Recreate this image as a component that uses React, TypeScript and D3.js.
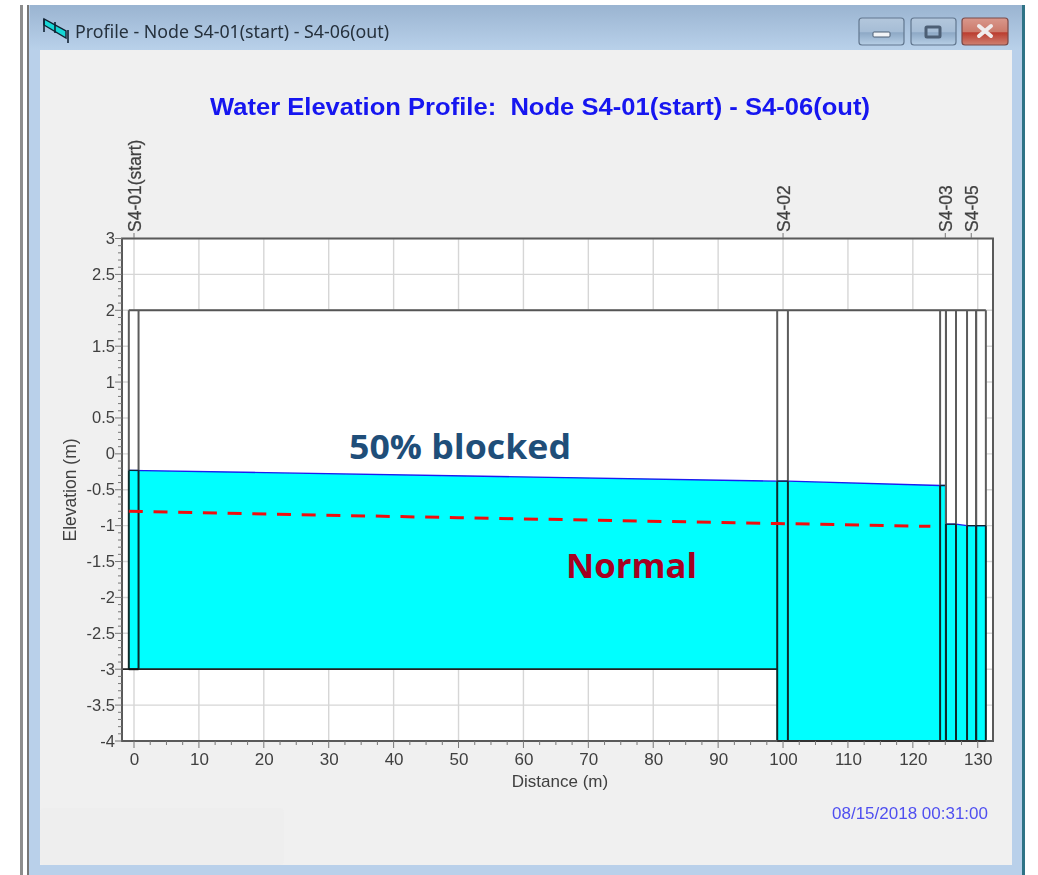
import React from "react";
import * as d3 from "d3";

const WIDTH = 1038;
const HEIGHT = 875;
const windowTitle = "Profile - Node S4-01(start) - S4-06(out)";
const chartTitle = "Water Elevation Profile:  Node S4-01(start) - S4-06(out)";
const timestamp = "08/15/2018 00:31:00";
const xTicks = [0, 10, 20, 30, 40, 50, 60, 70, 80, 90, 100, 110, 120, 130];
const yTicks = [3, 2.5, 2, 1.5, 1, 0.5, 0, -0.5, -1, -1.5, -2, -2.5, -3, -3.5, -4];
const nodeLabels = ["S4-01(start)", "S4-02", "S4-03", "S4-05"];
const nodeLabelX = [0, 100, 125, 129];
const wellLeft = [-0.8, 99.1, 124.2, 125.1, 128.35, 129.75];
const wellRight = [0.7, 100.75, 125.1, 126.65, 129.75, 131.25];
const wellWater = [-0.23, -0.38, -0.44, -0.98, -1.0, -1.0];
const wellFloor = [-3, -4, -4, -4, -4, -4];
const crownElev = 2;
const profileX = [-0.8, 99.1, 99.1, 100.75, 124.2, 125.1, 125.1, 126.65, 128.35, 131.25];
const waterElev = [-0.23, -0.38, -0.38, -0.38, -0.44, -0.44, -0.98, -0.98, -1.0, -1.0];
const floorElev = [-3, -3, -4, -4, -4, -4, -4, -4, -4, -4];
const normalX = [-0.8, 50, 99.1, 122.7];
const normalElev = [-0.8, -0.89, -0.97, -1.01];

const x = d3.scaleLinear().domain([-1.85, 132.35]).range([122, 993]);
const y = d3.scaleLinear().domain([-4, 3]).range([741, 238.5]);
const xMinor = d3.range(0, 132.5, 2.5);
const yMinor = d3.range(-40, 31).map((d) => d / 10);

const water = profileX.map((p, i) => ({ x: p, top: waterElev[i], bottom: floorElev[i] }));
const area = d3.area<any>().x((d) => x(d.x)).y0((d) => y(d.bottom)).y1((d) => y(d.top));
const surface = d3.line<any>().x((d) => x(d.x)).y((d) => y(d.top));
const normalLine = d3.line<number>().x((d) => x(d)).y((_, i) => y(normalElev[i]));
const sans = "'Liberation Sans', Arial, sans-serif";
const ui = "'Noto Sans', sans-serif";
const note = "'Open Sans', 'Noto Sans', sans-serif";
const axisText = "#404040";

function WinButton({ bx, w, kind }: { bx: number; w: number; kind: string }) {
  const red = kind === "close";
  const id = red ? "btnRed" : "btnBlue";
  return (
    <g>
      <rect x={bx} y={18} width={w} height={27} rx={3} fill={`url(#${id})`} stroke={red ? "#7b4a48" : "#62778f"} strokeWidth={1.2} />
      {kind === "min" && <rect x={bx + 14} y={32} width={17} height={5} rx={1} fill="#f2f4f7" stroke="#4d5f75" />}
      {kind === "max" && <rect x={bx + 15} y={27} width={14} height={10} rx={1} fill="none" stroke="#4d5f75" strokeWidth={3} />}
      {kind === "close" && (
        <path d={`M${bx + 17} 26 L${bx + 29} 36 M${bx + 29} 26 L${bx + 17} 36`} stroke="#f0ecec" strokeWidth={4} strokeLinecap="round" />
      )}
    </g>
  );
}

export default function App() {
  return (
    <svg width={WIDTH} height={HEIGHT} viewBox={`0 0 ${WIDTH} ${HEIGHT}`} style={{ position: "absolute", left: 0, top: 0, display: "block" }}>
      <defs>
        <linearGradient id="bar" x1="0" y1="0" x2="0" y2="1">
          <stop offset="0" stopColor="#9ab4d1" />
          <stop offset="1" stopColor="#b9d1ea" />
        </linearGradient>
        <linearGradient id="btnBlue" x1="0" y1="0" x2="0" y2="1">
          <stop offset="0" stopColor="#b3c7dc" />
          <stop offset="0.5" stopColor="#a6bdd6" />
          <stop offset="0.55" stopColor="#8ea9c6" />
          <stop offset="1" stopColor="#b7cfe6" />
        </linearGradient>
        <linearGradient id="btnRed" x1="0" y1="0" x2="0" y2="1">
          <stop offset="0" stopColor="#d9988c" />
          <stop offset="0.5" stopColor="#cc7b6c" />
          <stop offset="0.55" stopColor="#bb3e30" />
          <stop offset="1" stopColor="#cf8172" />
        </linearGradient>
        <filter id="soft" x="-2%" y="-2%" width="104%" height="104%">
          <feGaussianBlur stdDeviation="0.7" />
        </filter>
      </defs>
      <rect width={WIDTH} height={HEIGHT} fill="#fff" />
      <g filter="url(#soft)">
        <rect x={20} y={5} width={3} height={870} fill="#8d8d8d" />
        <rect x={27} y={5} width={2} height={870} fill="#777" />
        <rect x={29} y={5} width={994} height={870} fill="#b9d0ea" />
        <rect x={30} y={5} width={992} height={45} fill="url(#bar)" />
        <rect x={1022} y={5} width={3} height={870} fill="#2f7386" />
        <rect x={40} y={50} width={972} height={815} fill="#f0f0f0" />
        <rect x={40} y={808} width={244} height={57} fill="#eeeeee" rx={4} />
        <g>
          <path d="M44 25 L66 38 L66 31 L44 19 Z" fill="#19d6d6" stroke="#123" strokeWidth={1.4} />
          <path d="M55 22 V33 M68 30 V43 M44 19 V32" stroke="#123" strokeWidth={1.6} fill="none" />
        </g>
        <text x={75} y={38} fontFamily={ui} fontSize={17.4} fill="#25303c" textLength={314} lengthAdjust="spacingAndGlyphs">{windowTitle}</text>
        <WinButton bx={859} w={45} kind="min" />
        <WinButton bx={911} w={45} kind="max" />
        <WinButton bx={962} w={46} kind="close" />
        <text x={540} y={115} textAnchor="middle" xmlSpace="preserve" fontFamily={sans} fontWeight="bold" fontSize={24} fill="#1414f0" textLength={660} lengthAdjust="spacingAndGlyphs">{chartTitle}</text>
        <rect x={x.range()[0]} y={y.range()[1]} width={x.range()[1] - x.range()[0]} height={y.range()[0] - y.range()[1]} fill="#fff" />
        {xTicks.map((t) => (
          <line key={t} x1={x(t)} x2={x(t)} y1={y(3)} y2={y(-4)} stroke="#d6d6d6" strokeWidth={1.4} />
        ))}
        {yTicks.map((t) => (
          <line key={t} x1={x.range()[0]} x2={x.range()[1]} y1={y(t)} y2={y(t)} stroke="#d6d6d6" strokeWidth={1.4} />
        ))}
        <rect x={x(wellLeft[0])} y={y(crownElev)} width={x(wellRight[5]) - x(wellLeft[0])} height={y(-3) - y(crownElev)} fill="#fff" />
        <path d={area(water) ?? ""} fill="#00ffff" />
        <path d={surface(water.slice(0, 6)) ?? ""} fill="none" stroke="#1a1af0" strokeWidth={1.4} />
        <path d={surface(water.slice(6)) ?? ""} fill="none" stroke="#1a1af0" strokeWidth={1.2} />
        <line x1={x(wellLeft[0])} x2={x(wellRight[5])} y1={y(crownElev)} y2={y(crownElev)} stroke="#555" strokeWidth={2} />
        <line x1={x.range()[0]} x2={x(wellLeft[1])} y1={y(-3)} y2={y(-3)} stroke="#222" strokeWidth={1.8} />
        {wellLeft.map((l, i) => (
          <g key={i} fill="none" strokeWidth={2}>
            {[l, wellRight[i]].map((e, k) => (
              <g key={k}>
                <line x1={x(e)} x2={x(e)} y1={y(crownElev)} y2={y(wellWater[i])} stroke="#5c5c5c" />
                <line x1={x(e)} x2={x(e)} y1={y(wellWater[i])} y2={y(wellFloor[i])} stroke="#0c2c2c" />
              </g>
            ))}
            <line x1={x(l)} x2={x(wellRight[i])} y1={y(wellWater[i])} y2={y(wellWater[i])} stroke="#123" strokeWidth={1.3} />
            <line x1={x(l)} x2={x(wellRight[i])} y1={y(wellFloor[i])} y2={y(wellFloor[i])} stroke="#111" />
          </g>
        ))}
        <path d={normalLine(normalX) ?? ""} fill="none" stroke="#f01010" strokeWidth={3} strokeDasharray="14 10.7" />
        <rect x={x.range()[0]} y={y.range()[1]} width={x.range()[1] - x.range()[0]} height={y.range()[0] - y.range()[1]} fill="none" stroke="#5a5a5a" strokeWidth={2} />
        <line x1={x(wellLeft[1])} x2={x(wellRight[5])} y1={y(-4)} y2={y(-4)} stroke="#333" strokeWidth={2} />
        {xMinor.map((t) => (
          <line key={t} x1={x(t)} x2={x(t)} y1={741} y2={t % 10 === 0 ? 748 : 745} stroke="#777" strokeWidth={1} />
        ))}
        {yMinor.map((t) => (
          <line key={t} y1={y(t)} y2={y(t)} x1={Math.abs(t * 2 - Math.round(t * 2)) < 1e-6 ? 115 : 118} x2={122} stroke="#777" strokeWidth={1} />
        ))}
        {xTicks.map((t) => (
          <text key={t} x={x(t) + 0.5} y={765} textAnchor="middle" fontFamily={sans} fontSize={17} fill={axisText}>{t}</text>
        ))}
        {yTicks.map((t) => (
          <text key={t} x={115} y={y(t) + 5.5} textAnchor="end" fontFamily={sans} fontSize={16.5} fill={axisText}>{t}</text>
        ))}
        <text x={560} y={787} textAnchor="middle" fontFamily={sans} fontSize={17} fill={axisText}>Distance (m)</text>
        <text transform="translate(76,490) rotate(-90)" textAnchor="middle" fontFamily={sans} fontSize={17.5} fill={axisText}>Elevation (m)</text>
        {nodeLabels.map((n, i) => (
          <g key={n}>
            <line x1={x(nodeLabelX[i])} x2={x(nodeLabelX[i])} y1={233} y2={238} stroke="#777" />
            <text transform={`translate(${x(nodeLabelX[i]) + 6.5},232) rotate(-90)`} fontFamily={sans} fontSize={17.5} fill={axisText} stroke={axisText} strokeWidth={0.25}>{n}</text>
          </g>
        ))}
        <text x={988} y={819} textAnchor="end" fontFamily={sans} fontSize={17} fill="#5050f0">{timestamp}</text>
      </g>
      <text x={349} y={459} fontFamily={note} fontWeight="bold" fontSize={33.5} fill="#1f4e79" textLength={222} lengthAdjust="spacingAndGlyphs">50% blocked</text>
      <text x={566} y={578} fontFamily={note} fontWeight="bold" fontSize={34} fill="#a50021" textLength={131} lengthAdjust="spacingAndGlyphs">Normal</text>
    </svg>
  );
}
